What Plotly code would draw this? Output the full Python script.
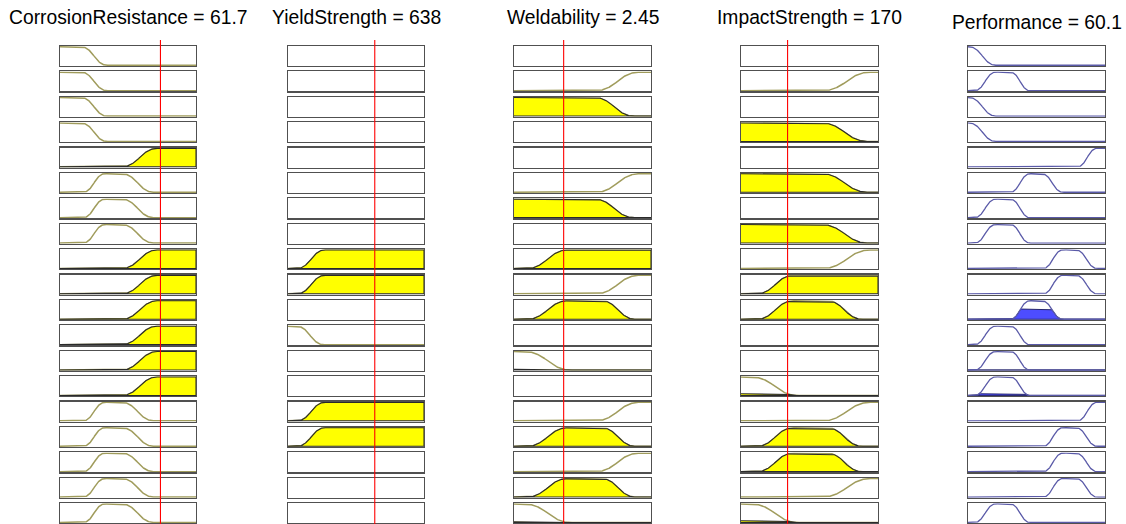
import numpy as np
import plotly.graph_objects as go

W, H = 1126, 524

# ---------------- data ----------------
input_names = ["CorrosionResistance", "YieldStrength", "Weldability", "ImpactStrength"]
input_values = [61.7, 638, 2.45, 170]
input_ranges = [[10, 80], [0, 1000], [1, 5], [0, 500]]
output_name = "Performance"
output_value = 60.1
output_range = [0, 100]

# membership functions: name -> (type, params)
mf_corrosion = {"low": ("z", [21, 34]), "mid": ("pi", [22, 33, 42, 58]), "high": ("s", [42, 60])}
mf_yield = {"low": ("z", [65, 260]), "high": ("s", [70, 270])}
mf_weld = {"low": ("z", [1.32, 2.64]), "medlow": ("s", [1.4, 2.56]),
           "mid": ("pi", [1.4, 2.56, 3.56, 4.52]), "nothigh": ("z", [3.36, 4.48]),
           "high": ("s", [3.4, 4.64])}
mf_impact = {"low": ("z", [40, 205]), "medlow": ("s", [60, 190]),
             "mid": ("pi", [60, 190, 315, 440]), "nothigh": ("z", [295, 460]),
             "high": ("s", [300, 470])}
mf_perf = {"verylow": ("z", [1, 20]), "low": ("pi", [5, 20, 31, 45]),
           "mid": ("pi", [31, 45, 54, 69]), "high": ("pi", [55, 69, 79, 94]),
           "veryhigh": ("s", [80, 94])}

rule_corrosion = ["low", "low", "low", "low", "high", "mid", "mid", "mid", "high", "high",
                  "high", "high", "high", "high", "mid", "mid", "mid", "mid", "mid"]
rule_yield = [None, None, None, None, None, None, None, None, "high", "high",
              None, "low", None, None, "high", "high", None, None, None]
rule_weld = [None, "high", "nothigh", None, None, "high", "nothigh", None, "medlow", "high",
             "mid", None, "low", None, "high", "mid", "high", "mid", "low"]
rule_impact = [None, "high", None, "nothigh", None, "nothigh", None, "nothigh", "high", "medlow",
               "mid", None, None, "low", "high", "mid", "mid", "high", "low"]
rule_output = ["verylow", "low", "verylow", "verylow", "veryhigh", "mid", "low", "low", "high", "high",
               "mid", "low", "low", "low", "veryhigh", "high", "high", "high", "low"]
rule_strength = [0, 0, 0, 0, 0, 0, 0, 0, 0, 0, 0.55, 0, 0.04, 0.09, 0, 0, 0, 0, 0]

# ---------------- membership evaluation ----------------
def smf(x, a, b):
    x = np.asarray(x, dtype=float)
    m = (a + b) / 2.0
    y = np.zeros_like(x)
    y = np.where((x > a) & (x <= m), 2 * ((x - a) / (b - a)) ** 2, y)
    y = np.where((x > m) & (x <= b), 1 - 2 * ((x - b) / (b - a)) ** 2, y)
    y = np.where(x > b, 1.0, y)
    return y

def evalmf(mf, x):
    t, p = mf
    if t == "s":
        return smf(x, p[0], p[1])
    if t == "z":
        return 1 - smf(x, p[0], p[1])
    return np.minimum(smf(x, p[0], p[1]), 1 - smf(x, p[2], p[3]))

# ---------------- layout geometry (pixels) ----------------
col_px = [(60, 196), (288, 424), (514, 651), (741, 878), (968, 1105)]
row_top0, row_pitch, row_h = 46, 25.4, 20
n_rows = len(rule_corrosion)

in_mfs = [mf_corrosion, mf_yield, mf_weld, mf_impact]
in_rules = [rule_corrosion, rule_yield, rule_weld, rule_impact]

OLIVE = "#a09c5c"
EDGE = "#2a2a2a"
YEL = "#ffff00"
NAVY = "#5a5aa8"
BLUE = "#4d4dff"

fig = go.Figure()
layout = dict(width=W, height=H, margin=dict(l=0, r=0, t=0, b=0),
              paper_bgcolor="white", plot_bgcolor="white", showlegend=False)

def axname(k, a):
    return a if k == 1 else f"{a}{k}"

shapes = []
annotations = []

for r in range(n_rows):
    top = row_top0 + r * row_pitch
    ydom = [1 - (top + row_h) / H, 1 - top / H]
    for c in range(5):
        k = r * 5 + c + 1
        xdom = [col_px[c][0] / W, col_px[c][1] / W]
        rng = input_ranges[c] if c < 4 else output_range
        common = dict(showgrid=False, zeroline=False, showticklabels=False, ticks="",
                      showline=True, mirror=True, linecolor="#505050", linewidth=1.2,
                      fixedrange=True)
        layout[axname(k, "xaxis")] = dict(domain=xdom, range=rng,
                                          anchor=axname(k, "y"), **common)
        layout[axname(k, "yaxis")] = dict(domain=ydom, range=[-0.04, 1.04],
                                          anchor=axname(k, "x"), **common)
        xr, yr = axname(k, "x"), axname(k, "y")
        # placeholder trace so that every box is drawn
        fig.add_trace(go.Scatter(x=[rng[0]], y=[0.5], mode="markers", xaxis=xr, yaxis=yr,
                                 marker=dict(size=1, opacity=0), hoverinfo="skip"))
        xs = np.linspace(rng[0], rng[1], 400)
        if c < 4:
            name = in_rules[c][r]
            if name is None:
                continue
            mf = in_mfs[c][name]
            ys = evalmf(mf, xs)
            fig.add_trace(go.Scatter(x=xs, y=ys, mode="lines", xaxis=xr, yaxis=yr,
                                     line=dict(color=OLIVE, width=1.5), hoverinfo="skip"))
            mu = float(evalmf(mf, np.array([input_values[c]]))[0])
            if mu > 0.005:
                yc = np.minimum(ys, mu)
                px = np.concatenate([xs, xs[::-1]])
                py = np.concatenate([yc, np.zeros_like(yc)])
                fig.add_trace(go.Scatter(x=px, y=py, mode="lines", fill="toself",
                                         fillcolor=YEL, xaxis=xr, yaxis=yr,
                                         line=dict(color=EDGE, width=1.1), hoverinfo="skip"))
        else:
            mf = mf_perf[rule_output[r]]
            ys = evalmf(mf, xs)
            w = rule_strength[r]
            if w > 0.005:
                yc = np.minimum(ys, w)
                px = np.concatenate([xs, xs[::-1]])
                py = np.concatenate([yc, np.zeros_like(yc)])
                fig.add_trace(go.Scatter(x=px, y=py, mode="lines", fill="toself",
                                         fillcolor=BLUE, xaxis=xr, yaxis=yr,
                                         line=dict(color="#26266e", width=1), hoverinfo="skip"))
            fig.add_trace(go.Scatter(x=xs, y=ys, mode="lines", xaxis=xr, yaxis=yr,
                                     line=dict(color=NAVY, width=1.3), hoverinfo="skip"))

# red input-value lines
for c in range(4):
    shapes.append(dict(type="line", xref=axname(c + 1, "x"), yref="paper",
                       x0=input_values[c], x1=input_values[c],
                       y0=1 - 40 / H, y1=0, line=dict(color="#ff0000", width=1.1),
                       layer="above"))

# titles
titles = [f"{n} = {v:g}" for n, v in zip(input_names, input_values)] + [f"{output_name} = {output_value:g}"]
for c in range(5):
    cx = (col_px[c][0] + col_px[c][1]) / 2 / W
    ty = 17 if c < 4 else 22
    annotations.append(dict(text=titles[c], x=cx, y=1 - ty / H, xref="paper", yref="paper",
                            xanchor="center", yanchor="middle", showarrow=False,
                            font=dict(family="Liberation Sans, Arial, sans-serif", size=19.3,
                                      color="black")))

layout["shapes"] = shapes
layout["annotations"] = annotations
fig.update_layout(**layout)
fig.write_html("out.html", config={"displayModeBar": False, "staticPlot": True},
               post_script="document.body.style.margin='0px';document.body.style.overflow='hidden';")
